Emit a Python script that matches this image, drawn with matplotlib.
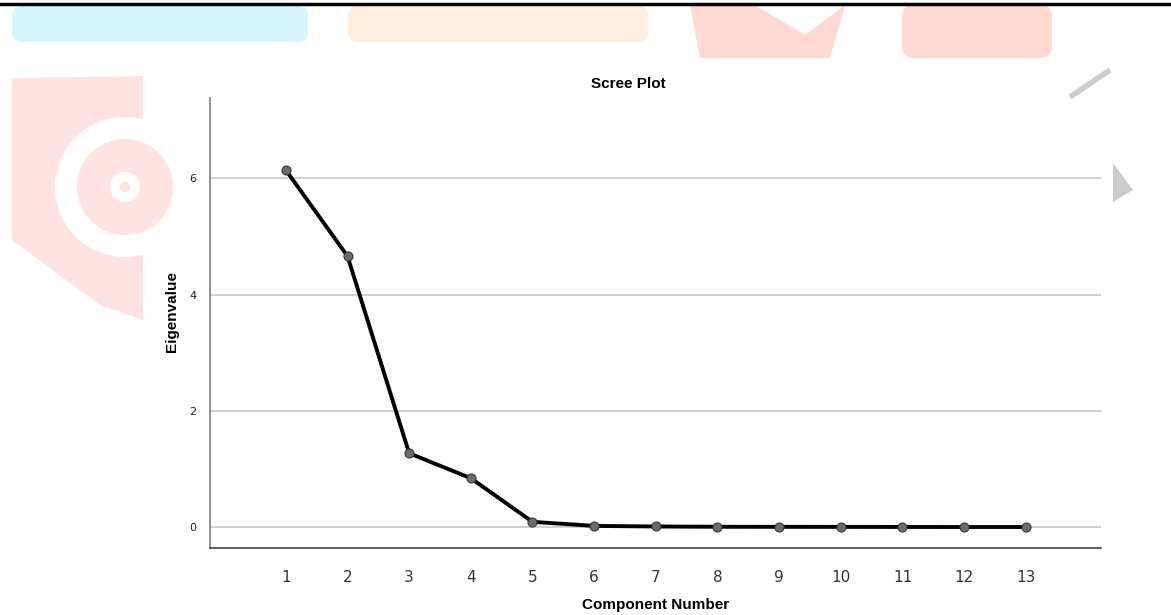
import matplotlib.pyplot as plt
from matplotlib.patches import FancyBboxPatch, Polygon, Circle

# eigenvalues
components = list(range(1, 14))
eigenvalues = [6.14, 4.66, 1.27, 0.84, 0.09, 0.02, 0.01, 0.005, 0.004, 0.003, 0.002, 0.001, 0.001]
y_ticks = [0, 2, 4, 6]

W, H = 1171, 615
fig = plt.figure(figsize=(W / 100, H / 100), dpi=100)
fig.patch.set_facecolor('white')

def fx(px):
    return px / W

def fy(py):
    return 1 - py / H

# faint watermark shapes behind the chart
bg = fig.add_axes([0, 0, 1, 1], zorder=0)
bg.set_xlim(0, W)
bg.set_ylim(H, 0)
bg.axis('off')
bg.add_patch(FancyBboxPatch((12, 6), 296, 36, boxstyle='round,pad=0,rounding_size=10',
                            fc='#d6f5fc', ec='none'))
bg.add_patch(FancyBboxPatch((348, 6), 300, 36, boxstyle='round,pad=0,rounding_size=10',
                            fc='#ffeedd', ec='none'))
bg.add_patch(Polygon([(690, 5), (755, 5), (805, 35), (845, 5), (830, 58), (700, 58)],
                     fc='#ffdad3', ec='none'))
bg.add_patch(FancyBboxPatch((902, 5), 150, 53, boxstyle='round,pad=0,rounding_size=12',
                            fc='#ffdad3', ec='none'))
bg.add_patch(Polygon([(12, 78), (143, 76), (143, 320), (100, 305), (12, 240)],
                     fc='#ffe3e3', ec='none'))
bg.add_patch(Circle((125, 187), 70, fc='white', ec='none'))
bg.add_patch(Circle((125, 187), 48, fc='#ffe3e3', ec='none'))
bg.add_patch(Circle((125, 187), 15, fc='white', ec='none'))
bg.add_patch(Circle((125, 187), 5, fc='#ffe3e3', ec='none'))
bg.plot([1070, 1110], [97, 70], color='#cccccc', lw=4, solid_capstyle='butt')
bg.add_patch(Polygon([(1113, 163), (1133, 190), (1113, 202)], fc='#cccccc', ec='none'))
bg.plot([0, W], [4, 4], color='black', lw=2.5)

# main chart
ax = fig.add_axes([fx(210), fy(548), fx(1101) - fx(210), fy(98) - fy(548)], zorder=1)
ax.patch.set_alpha(0)
ax.set_xlim(-0.23, 14.22)
ax.set_ylim(-0.36, 7.38)

for t in y_ticks:
    ax.axhline(t, color='#c8c8c8', lw=1.2, zorder=1)

ax.plot(components, eigenvalues, color='black', lw=2.8, zorder=2)
ax.plot(components, eigenvalues, 'o', ms=6.5, mfc='#6b6b6b', mec='#3a3a3a', mew=0.8, zorder=3)

ax.set_xticks(components)
ax.set_yticks(y_ticks)
ax.tick_params(axis='x', length=0, labelsize=11, labelcolor='#333333', pad=16)
ax.tick_params(axis='y', length=0, labelsize=8, labelcolor='#222222', pad=10)
for s in ['top', 'right']:
    ax.spines[s].set_visible(False)
ax.spines['left'].set_color('#888888')
ax.spines['left'].set_linewidth(1.3)
ax.spines['bottom'].set_color('#444444')
ax.spines['bottom'].set_linewidth(1.2)

fig.text(fx(628), fy(84), 'Scree Plot', ha='center', va='center', fontsize=11,
         fontweight='bold', family='Liberation Sans')
fig.text(fx(656), fy(605), 'Component Number', ha='center', va='center', fontsize=11,
         fontweight='bold', family='Liberation Sans')
fig.text(fx(172), fy(312), 'Eigenvalue', ha='center', va='center', fontsize=11,
         fontweight='bold', family='Liberation Sans', rotation=90)

fig.savefig('out.png', dpi=100)
